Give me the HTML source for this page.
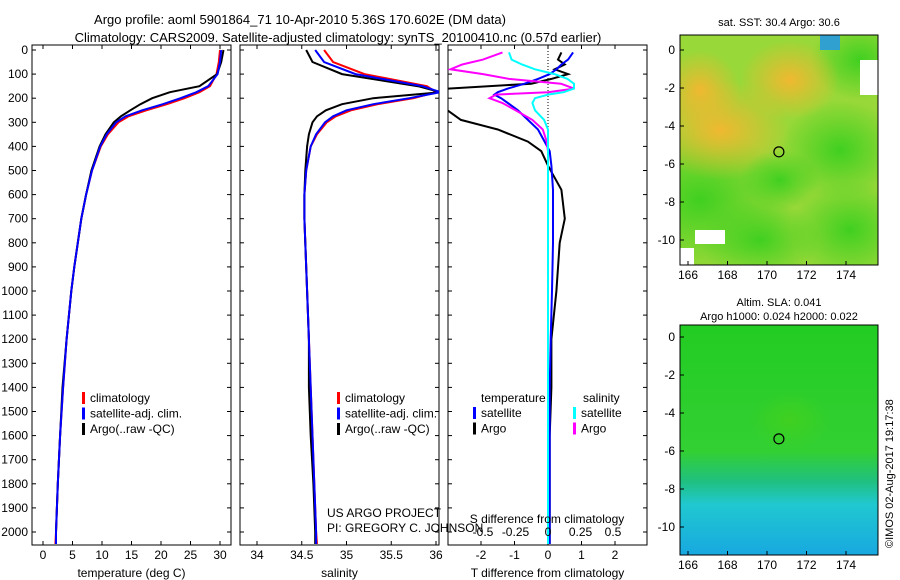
<!DOCTYPE html>
<html><head><meta charset="utf-8"><style>
body{margin:0;background:#fff;}
svg{display:block;font-family:"Liberation Sans",sans-serif;}
</style></head><body>
<svg id="c" width="900" height="580" xmlns="http://www.w3.org/2000/svg">
<defs>
<radialGradient id="o1" cx="0.5" cy="0.5" r="0.5"><stop offset="0" stop-color="#f0b830"/><stop offset="1" stop-color="#f0b830" stop-opacity="0"/></radialGradient>
<radialGradient id="g1" cx="0.5" cy="0.5" r="0.5"><stop offset="0" stop-color="#40d020"/><stop offset="1" stop-color="#40d020" stop-opacity="0"/></radialGradient>
<linearGradient id="m2" x1="0" y1="0" x2="0" y2="1"><stop offset="0" stop-color="#22cc22"/><stop offset="0.55" stop-color="#33d033"/><stop offset="0.68" stop-color="#20c080"/><stop offset="0.78" stop-color="#20c8d0"/><stop offset="1" stop-color="#18a8e0"/></linearGradient>
<clipPath id="mc1"><rect x="680" y="35" width="198" height="230"/></clipPath>
<clipPath id="mc2"><rect x="680" y="325" width="198" height="230"/></clipPath>
</defs>
<text x="300" y="24" font-size="13" text-anchor="middle">Argo profile: aoml 5901864_71 10-Apr-2010 5.36S 170.602E (DM data)</text>
<text x="338" y="42" font-size="13" text-anchor="middle">Climatology: CARS2009. Satellite-adjusted climatology: synTS_20100410.nc (0.57d earlier)</text>
<g id="p1"></g>
<g id="p2"></g>
<g id="p3"></g>
<g id="m1"></g>
<g id="m2g"></g>
<text transform="translate(893,548) rotate(-90)" font-size="11">©IMOS 02-Aug-2017 19:17:38</text>
</svg>
<script>
const depth=[0,50,100,150,175,200,225,250,275,300,350,400,500,600,700,800,900,1000,1200,1400,1600,1800,2000,2050];
const tClim=[30,29.8,29.4,28.3,26.5,24,21,17.5,14.5,12.8,11,9.8,8.3,7.3,6.5,5.9,5.3,4.8,4.0,3.4,2.9,2.5,2.2,2.1];
const tSat=[30.2,30,29.6,28,26,23.3,20.3,16.8,14,12.4,10.8,9.7,8.3,7.3,6.5,5.9,5.3,4.8,4.0,3.4,2.9,2.5,2.2,2.2];
const tArgo=[30.6,30.2,29.5,26.5,21.5,18.5,16.5,14.8,13.2,12,10.6,9.6,8.2,7.3,6.5,5.9,5.3,4.8,4.0,3.3,2.9,2.5,2.2,2.2];
const sClim=[34.75,34.85,35.2,35.9,36.0,35.75,35.35,35.05,34.88,34.78,34.67,34.6,34.55,34.53,34.53,34.54,34.55,34.56,34.58,34.6,34.62,34.64,34.66,34.67];
const sSat=[34.65,34.75,35.1,35.85,36.05,35.7,35.3,35.0,34.85,34.76,34.66,34.6,34.55,34.53,34.53,34.54,34.55,34.56,34.58,34.6,34.62,34.64,34.66,34.66];
const sArgo=[34.55,34.62,34.95,35.8,36.05,35.3,34.95,34.77,34.67,34.62,34.58,34.56,34.54,34.53,34.53,34.54,34.55,34.56,34.58,34.58,34.6,34.63,34.65,34.65];
const dDepth=[10,40,60,80,100,120,140,160,175,185,200,220,250,290,330,380,420,480,580,700,800,1000,1200,1400,1600,1800,2000,2050];
const dTSat=[0.75,0.6,0.4,0.25,0.05,-0.3,-0.7,-1.2,-1.5,-1.6,-1.4,-1.2,-0.9,-0.6,-0.3,-0.1,0.05,0.1,0.15,0.15,0.15,0.12,0.08,0.05,0.05,0.05,0.05,0.05];
const dTArgo=[0.4,0.3,0.5,0.2,0.6,0.1,-0.5,-3,-3,-3,-3,-3,-3,-2.6,-1.5,-0.6,-0.2,0,0.4,0.5,0.35,0.25,0.1,0.1,0.05,0.05,0.05,0.05];
const dSSat=[-0.3,-0.28,-0.2,-0.1,0.05,0.15,0.2,0.2,0.12,0,-0.1,-0.12,-0.1,-0.03,0,0,0,0,0,0,0,0,0,0,0,0,0,0];
const dSArgo=[-0.35,-0.5,-0.66,-0.75,-0.5,-0.3,0.1,0.2,0,-0.4,-0.45,-0.35,-0.25,-0.12,-0.04,-0.01,0,0,0,0,0,0,0,0,0,0,0,0];
const depthTicks=[0,100,200,300,400,500,600,700,800,900,1000,1100,1200,1300,1400,1500,1600,1700,1800,1900,2000];
const tTicks=[0,5,10,15,20,25,30];
const sTicks=[34,34.5,35,35.5,36];
const dTTicks=[-2,-1,0,1,2];
const dSTicks=[-0.5,-0.25,0,0.25,0.5];
const latTicks=[0,-2,-4,-6,-8,-10];
const lonTicks=[166,168,170,172,174];
const floatLon=170.602, floatLat=-5.36;

const NS='http://www.w3.org/2000/svg';
function mk(parent,tag,attrs,txt){const e=document.createElementNS(NS,tag);for(const k in attrs)e.setAttribute(k,attrs[k]);if(txt!==undefined)e.textContent=txt;parent.appendChild(e);return e;}
const TOP=45,BOT=545;
const yD=d=>50+d*0.241;
function panel(g,x0,x1,xs,ticks,lbl,fmt){
  const f=mk(g,'rect',{x:x0,y:TOP,width:x1-x0,height:BOT-TOP,fill:'none',stroke:'#000','stroke-width':1});
  
  depthTicks.forEach(d=>{mk(g,'line',{x1:x0,x2:x0+4,y1:yD(d),y2:yD(d),stroke:'#000'});mk(g,'line',{x1:x1,x2:x1-4,y1:yD(d),y2:yD(d),stroke:'#000'});});
  ticks.forEach(t=>{const x=xs(t);mk(g,'line',{x1:x,x2:x,y1:BOT,y2:BOT-4,stroke:'#000'});mk(g,'line',{x1:x,x2:x,y1:TOP,y2:TOP+4,stroke:'#000'});
    const tl=mk(g,'text',{x:x,y:BOT+14,'font-size':12,'text-anchor':'middle'},fmt?fmt(t):String(t));
    });
  if(lbl){const t=mk(g,'text',{x:(x0+x1)/2,y:577,'font-size':12,'text-anchor':'middle'},lbl);}
}
function line(g,xs,vals,dep,color,name){
  const pts=vals.map((v,i)=>xs(v).toFixed(1)+','+yD(dep[i]).toFixed(1)).join(' ');
  const p=mk(g,'polyline',{points:pts,fill:'none',stroke:color,'stroke-width':2});
  
}
function clip(g,id,x0,x1){const d=mk(document.querySelector('defs'),'clipPath',{id:id});mk(d,'rect',{x:x0,y:TOP,width:x1-x0,height:BOT-TOP});return mk(g,'g',{'clip-path':'url(#'+id+')'});}
function legend(g,x,y,items){items.forEach((it,i)=>{const r=mk(g,'rect',{x:x,y:y+i*15.5-10,width:3,height:12,fill:it[1]});
  const t=mk(g,'text',{x:x+8,y:y+i*15.5,'font-size':12},it[0]);});}

const p1=document.getElementById('p1');
const xT=t=>43+t*5.9;
panel(p1,32,231,xT,tTicks,'temperature (deg C)');
depthTicks.forEach(d=>{const t=mk(p1,'text',{x:28,y:yD(d)+4,'font-size':12,'text-anchor':'end'},String(d));});
const c1=clip(p1,'cp1',32,231);
line(c1,xT,tClim,depth,'#f00','temp-climatology-line');
line(c1,xT,tArgo,depth,'#000','temp-argo-line');
line(c1,xT,tSat,depth,'#00f','temp-satellite-line');
legend(p1,82,402,[['climatology','#f00'],['satellite-adj. clim.','#00f'],['Argo(..raw -QC)','#000']]);
const p2=document.getElementById('p2');
const xS=s=>257+(s-34)*89.5;
panel(p2,240,439,xS,sTicks,'salinity');
const c2=clip(p2,'cp2',240,439);
line(c2,xS,sClim,depth,'#f00','sal-climatology-line');
line(c2,xS,sArgo,depth,'#000','sal-argo-line');
line(c2,xS,sSat,depth,'#00f','sal-satellite-line');
legend(p2,337,402,[['climatology','#f00'],['satellite-adj. clim.','#00f'],['Argo(..raw -QC)','#000']]);
let t=mk(p2,'text',{x:327,y:517,'font-size':12},'US ARGO PROJECT');
t=mk(p2,'text',{x:327,y:532,'font-size':12},'PI: GREGORY C. JOHNSON');
const p3=document.getElementById('p3');
const xDT=v=>548+v*33.5;
const xDS=v=>548+v*130;
panel(p3,448,647,xDT,dTTicks,'T difference from climatology');
const zl=mk(p3,'line',{x1:548,x2:548,y1:TOP,y2:200,stroke:'#000','stroke-dasharray':'1,2'});
const c3=clip(p3,'cp3',448,647);
line(c3,xDT,dTArgo,dDepth,'#000','tdiff-argo-line');
line(c3,xDT,dTSat,dDepth,'#00f','tdiff-satellite-line');
line(c3,xDS,dSArgo,dDepth,'#f0f','sdiff-argo-line');
line(c3,xDS,dSSat,dDepth,'#0ff','sdiff-satellite-line');
dSTicks.forEach(v=>{const l=mk(p3,'text',{x:xDS(v),y:536,'font-size':12,'text-anchor':'middle'},String(v));});
t=mk(p3,'text',{x:547,y:523,'font-size':12,'text-anchor':'middle'},'S difference from climatology');
t=mk(p3,'text',{x:481,y:402,'font-size':12},'temperature');
t=mk(p3,'text',{x:583,y:402,'font-size':12},'salinity');
legend(p3,473,417,[['satellite','#00f'],['Argo','#000']]);
legend(p3,573,417,[['satellite','#0ff'],['Argo','#f0f']]);
function map(g,y0,zeroY,title1,title2,cid){
  const x0=680,w=198,h=230;
  const lonX=l=>688+(l-166)*19.75, latY=l=>zeroY-l*19;
  const cg=mk(g,'g',{'clip-path':'url(#'+cid+')'});
  if(y0<100){
    mk(cg,'rect',{x:x0,y:y0,width:w,height:h,fill:'#98d838'});
    [[700,200,90,70,'g1'],[860,60,50,40,'g1'],[850,230,60,50,'g1'],[760,240,60,40,'g1'],[840,150,60,50,'g1'],[720,130,70,50,'o1'],[790,80,50,40,'o1'],[700,90,40,40,'o1'],[780,180,40,30,'g1']].forEach(b=>mk(cg,'ellipse',{cx:b[0],cy:b[1],rx:b[2],ry:b[3],fill:'url(#'+b[4]+')'}));
    mk(cg,'rect',{x:820,y:35,width:20,height:15,fill:'#30a0d0'});
    mk(cg,'rect',{x:860,y:60,width:18,height:35,fill:'#fff'});
    mk(cg,'rect',{x:695,y:230,width:30,height:14,fill:'#fff'});
    mk(cg,'rect',{x:680,y:248,width:14,height:17,fill:'#fff'});
  } else {
    mk(cg,'rect',{x:x0,y:y0,width:w,height:h,fill:'url(#m2)'});
    mk(cg,'ellipse',{cx:790,cy:420,rx:40,ry:30,fill:'url(#g1)'});
  }
  const fr=mk(g,'rect',{x:x0,y:y0,width:w,height:h,fill:'none',stroke:'#000'});
  latTicks.forEach(l=>{const y=latY(l);mk(g,'line',{x1:x0,x2:x0+4,y1:y,y2:y,stroke:'#000'});const tt=mk(g,'text',{x:675,y:y+4,'font-size':12,'text-anchor':'end'},String(l));});
  lonTicks.forEach(l=>{const x=lonX(l);mk(g,'line',{x1:x,x2:x,y1:y0+h,y2:y0+h-4,stroke:'#000'});const tt=mk(g,'text',{x:x,y:y0+h+14,'font-size':12,'text-anchor':'middle'},String(l));});
  const m=mk(g,'circle',{cx:lonX(floatLon),cy:latY(floatLat),r:5,fill:'none',stroke:'#000','stroke-width':1.2});
  const a=mk(g,'text',{x:779,y:title2?y0-19:y0-9,'font-size':11,'text-anchor':'middle'},title1);
  if(title2){const b=mk(g,'text',{x:779,y:y0-5,'font-size':11,'text-anchor':'middle'},title2);}
}
map(document.getElementById('m1'),35,50,'sat. SST: 30.4  Argo: 30.6',null,'mc1');
map(document.getElementById('m2g'),325,337,'Altim. SLA: 0.041','Argo h1000: 0.024 h2000: 0.022','mc2');
</script>
</body></html>
